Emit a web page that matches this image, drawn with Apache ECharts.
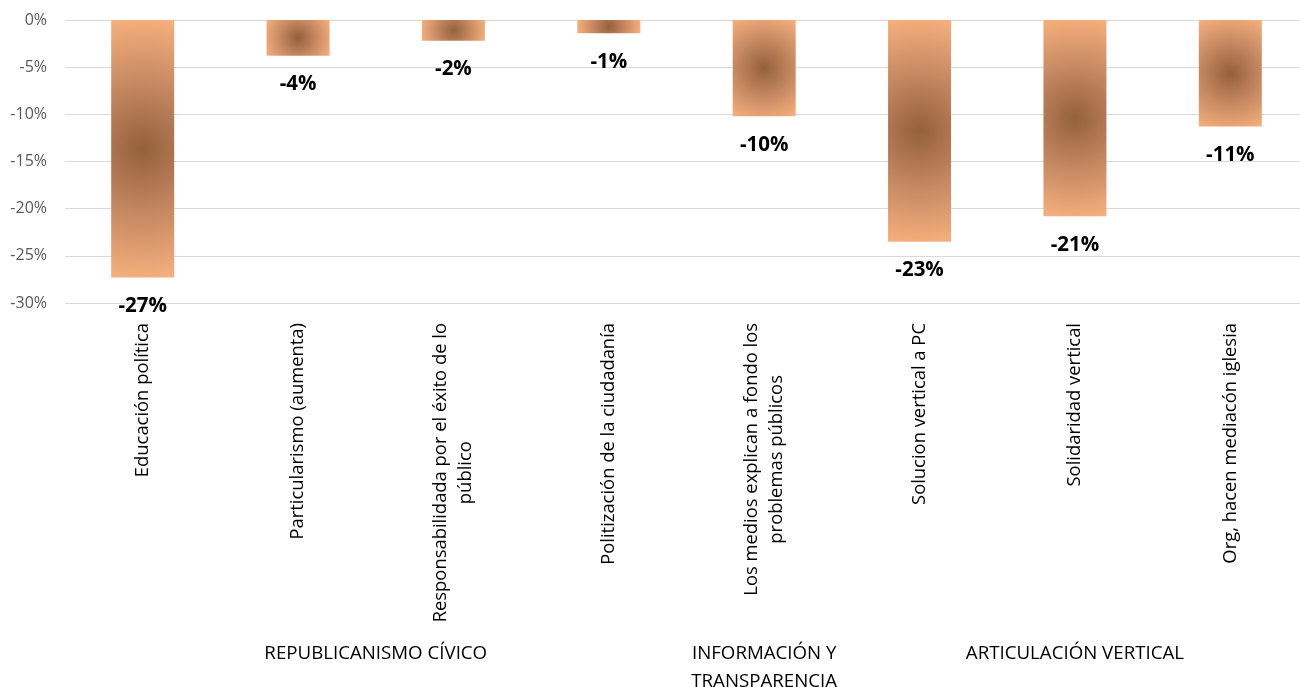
<!DOCTYPE html>
<html><head><meta charset="utf-8">
<script src="https://cdn.jsdelivr.net/npm/echarts@6/dist/echarts.min.js"></script>
<style>html,body{margin:0;padding:0;background:#fff}#c{width:1300px;height:687px}</style>
</head><body><div id="c"></div>
<script>
// ---- data ----
const categories = [
  'Educación política',
  'Particularismo (aumenta)',
  'Responsabilidada por el éxito de lo\npúblico',
  'Politización de la ciudadanía',
  'Los medios explican a fondo los\nproblemas públicos',
  'Solucion vertical a PC',
  'Solidaridad vertical',
  'Org, hacen mediacón iglesia'
];
const values = [-27.3, -3.8, -2.2, -1.4, -10.2, -23.5, -20.8, -11.3];
const yMin = -30, yMax = 0, yStep = 5;
const groupNames = ['REPUBLICANISMO CÍVICO', 'INFORMACIÓN Y\nTRANSPARENCIA', 'ARTICULACIÓN VERTICAL'];
const groupStart = [0, 4, 5];
const groupEnd = [3, 4, 7];

// ---- style ----
const FONT = '"Open Sans", "Noto Sans", sans-serif';
const BAR_W = 63;
const stops = [
  {offset: 0, color: '#95603d'},
  {offset: 0.5, color: '#c68962'},
  {offset: 1, color: '#f7b07e'}
];

const chart = echarts.init(document.getElementById('c'), null, {renderer: 'canvas'});
const option = {
  animation: false,
  backgroundColor: '#fff',
  grid: {left: 65, top: 20, right: -8, bottom: 384, containLabel: false, outerBoundsMode: 'none'},
  xAxis: {
    type: 'category',
    data: categories,
    position: 'bottom',
    axisLine: {show: false, onZero: false},
    axisTick: {show: false},
    axisLabel: {
      rotate: 90,
      interval: 0,
      margin: 20,
      color: '#000',
      fontFamily: FONT,
      fontSize: 18.4,
      lineHeight: 25,
      formatter: v => v.split('\n').map(s => '{c|' + s + '}').join('\n'),
      rich: {c: {align: 'center', fontFamily: FONT, fontSize: 18.4, lineHeight: 25, color: '#000'}}
    }
  },
  yAxis: {
    type: 'value',
    min: yMin, max: yMax, interval: yStep,
    axisLine: {show: false},
    axisTick: {show: false},
    splitLine: {lineStyle: {color: '#d9d9d9', width: 1}},
    axisLabel: {
      margin: 18,
      color: '#595959',
      fontFamily: FONT,
      fontSize: 16,
      formatter: v => v + '%'
    }
  },
  series: [{
    type: 'bar',
    data: values,
    barWidth: BAR_W,
    itemStyle: {color: '#f7b07e'},
    label: {
      show: true,
      position: 'bottom',
      distance: 18,
      color: '#000',
      fontFamily: FONT,
      fontWeight: 'bold',
      fontSize: 20.5,
      formatter: p => Math.round(p.value) + '%'
    }
  }]
};
chart.setOption(option);

// per-bar radial gradient reaching the bar corners
const y0 = chart.convertToPixel({yAxisIndex: 0}, 0);
const data = values.map(v => {
  const h = Math.abs(chart.convertToPixel({yAxisIndex: 0}, v) - y0);
  const w = BAR_W;
  const r = Math.sqrt(w * w + h * h) / 2 / Math.min(w, h);
  return {value: v, itemStyle: {color: {type: 'radial', x: 0.5, y: 0.5, r: r, colorStops: stops}}};
});

const gridBottom = chart.convertToPixel({yAxisIndex: 0}, yMin);
const graphic = groupNames.map((name, i) => {
  const x = (chart.convertToPixel({xAxisIndex: 0}, groupStart[i]) + chart.convertToPixel({xAxisIndex: 0}, groupEnd[i])) / 2;
  return {
    type: 'text',
    x: x,
    y: gridBottom + 337,
    style: {
      text: name,
      align: 'center',
      verticalAlign: 'top',
      fill: '#000',
      font: '18.7px ' + FONT,
      lineHeight: 28
    }
  };
});
chart.setOption({series: [{data: data}], graphic: graphic});
</script>
</body></html>
